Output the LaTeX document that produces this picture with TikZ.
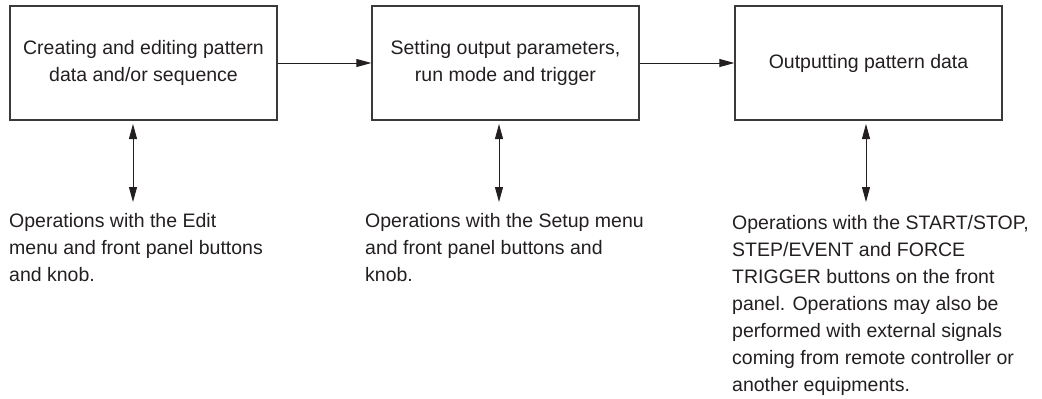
\documentclass[tikz,border=0pt]{standalone}
\usepackage{fontspec}
\setmainfont{Liberation Sans}
\usetikzlibrary{arrows.meta}
\definecolor{ink}{HTML}{231F20}
\definecolor{frame}{HTML}{3A3A3A}
\tikzset{
  stagebox/.style={draw=frame, line width=1.3pt, minimum width=267pt, minimum height=114pt,
    inner sep=0pt, align=center, text=ink, font=\fontsize{19.5}{27}\selectfont},
  note/.style={anchor=north west, inner sep=0pt, align=left, text=ink,
    font=\fontsize{19.5}{27}\selectfont},
  flow/.style={draw=ink, line width=0.9pt, -{Triangle[length=15pt,width=8pt]}},
  both/.style={draw=ink, line width=0.9pt, {Triangle[length=15pt,width=8pt]}-{Triangle[length=15pt,width=8pt]}}
}
\begin{document}
\begin{tikzpicture}[x=1pt,y=-1pt]
\useasboundingbox (0,0) rectangle (1042,399);
\node[stagebox] (b1) at (143.5,63) {Creating and editing pattern\\data and/or sequence};
\node[stagebox] (b2) at (505.5,63) {Setting output parameters,\\run mode and trigger};
\node[stagebox] (b3) at (868.5,63) {Outputting pattern data};
\draw[flow] (b1.east) -- (b2.west);
\draw[flow] (b2.east) -- (b3.west);
\node[note] (n1) at (9,213) {Operations with the Edit\\menu and front panel buttons\\and knob.};
\node[note] (n2) at (365,213) {Operations with the Setup menu\\and front panel buttons and\\knob.};
\node[note] (n3) at (732,215) {Operations with the START/STOP,\\STEP/EVENT and FORCE\\TRIGGER buttons on the front\\panel. Operations may also be\\performed with external signals\\coming from remote controller or\\another equipments.};
\coordinate (u1) at (133,124);
\coordinate (d1) at (133,202);
\coordinate (u2) at (499,124);
\coordinate (d2) at (499,202);
\coordinate (u3) at (866,124);
\coordinate (d3) at (866,202);
\draw[both] (u1) -- (d1);
\draw[both] (u2) -- (d2);
\draw[both] (u3) -- (d3);
\end{tikzpicture}
\end{document}
